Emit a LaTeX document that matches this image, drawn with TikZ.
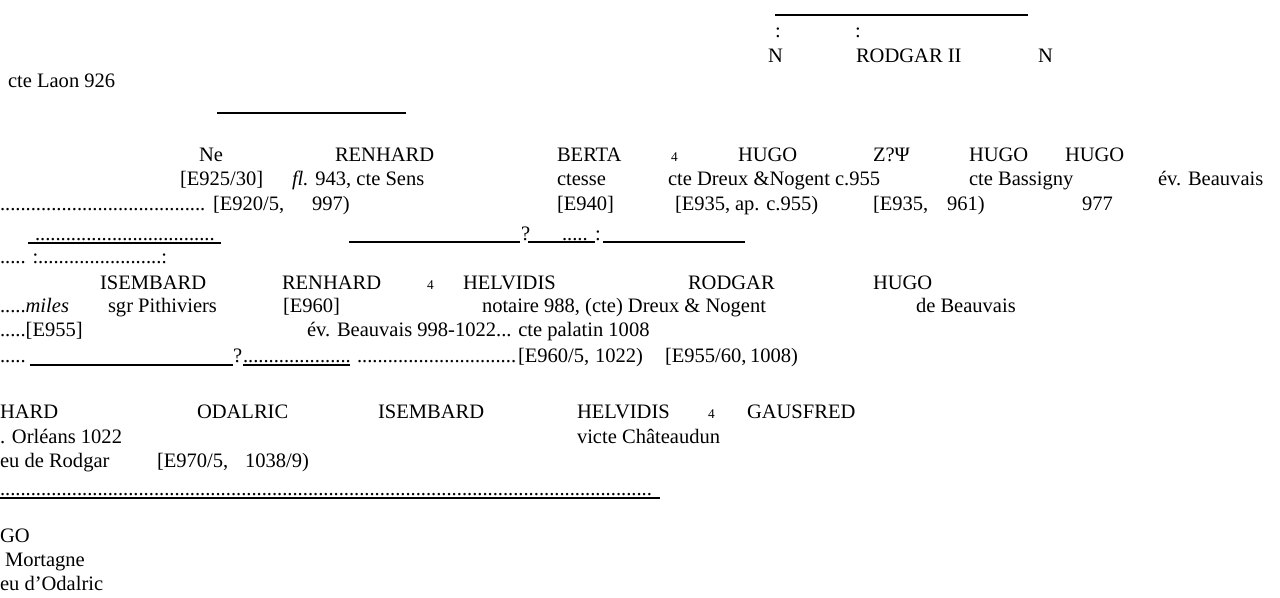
\documentclass[tikz,border=0pt]{standalone}
\usepackage{fontspec}
\setmainfont{Liberation Serif}
\newcommand\rdots[1]{\foreach\ri in {1,...,#1}{.}}
\tikzset{
  txt/.style={anchor=base west,inner sep=0pt,outer sep=0pt,font=\fontsize{15.4}{18}\selectfont},
  smtxt/.style={anchor=base west,inner sep=0pt,outer sep=0pt,font=\fontsize{10}{12}\selectfont},
  rule/.style={line width=0.9pt}
}
\begin{document}
\begin{tikzpicture}[x=0.75pt,y=-0.75pt]
\useasboundingbox (0,0) rectangle (1280,597);
% top
\coordinate (l0a) at (775,15); \coordinate (l0b) at (1028,15);
\draw[rule] (l0a) -- (l0b);
\node[txt] (col1) at (775,37) {:};
\node[txt] (col2) at (855,37) {:};
\node[txt] (ntop1) at (768,62) {N};
\node[txt] (rodgarII) at (856,62) {RODGAR II};
\node[txt] (ntop2) at (1038,62) {N};
\node[txt] (laon) at (8,87) {cte Laon 926};
\coordinate (l1a) at (217,113); \coordinate (l1b) at (406,113);
\draw[rule] (l1a) -- (l1b);
% row 1
\node[txt] (ne) at (199,161) {Ne};
\node[txt] (renhardA) at (335,161) {RENHARD};
\node[txt] (berta) at (557,161) {BERTA};
\node[smtxt] (m1) at (671,161) {4};
\node[txt] (hugoA) at (738,161) {HUGO};
\node[txt] (zpsi) at (873,161) {Z?Ψ};
\node[txt] (hugoB) at (969,161) {HUGO};
\node[txt] (hugoC) at (1065,161) {HUGO};
% row 2
\node[txt] (r2a) at (180,185) {[E925/30]};
\node[txt] (r2b) at (292,185) {\textit{fl.} 943, cte Sens};
\node[txt] (r2c) at (557,185) {ctesse};
\node[txt] (r2d) at (668,185) {cte Dreux \&Nogent c.955};
\node[txt] (r2e) at (969,185) {cte Bassigny};
\node[txt] (r2f) at (1158,185) {év. Beauvais};
% row 3
\node[txt] (r3dots) at (0,210) {\rdots{40}};
\node[txt] (r3a) at (213,210) {[E920/5,};
\node[txt] (r3b) at (312,210) {997)};
\node[txt] (r3c) at (557,210) {[E940]};
\node[txt] (r3d) at (675,210) {[E935,};
\node[txt] (r3e) at (735,210) {ap. c.955)};
\node[txt] (r3f) at (873,210) {[E935,};
\node[txt] (r3g) at (947,210) {961)};
\node[txt] (r3h) at (1082,210) {977};
% row 4
\node[txt] (r4dots) at (35,240) {\rdots{35}};
\coordinate (l2a) at (28,243); \coordinate (l2b) at (221,243);
\draw[rule] (l2a) -- (l2b);
\coordinate (l3a) at (349,242); \coordinate (l3b) at (520,242);
\draw[rule] (l3a) -- (l3b);
\node[txt] (q1) at (521,240) {?};
\node[txt] (r4dots2) at (562,240) {\rdots{5}};
\coordinate (l4a) at (528,242); \coordinate (l4b) at (595,242);
\draw[rule] (l4a) -- (l4b);
\node[txt] (col3) at (595,240) {:};
\coordinate (l5a) at (603,242); \coordinate (l5b) at (745,242);
\draw[rule] (l5a) -- (l5b);
% row 5
\node[txt] (r5) at (0,263) {\rdots{5} :\rdots{24}:};
% row 6
\node[txt] (isembardA) at (100,289) {ISEMBARD};
\node[txt] (renhardB) at (282,289) {RENHARD};
\node[smtxt] (m2) at (427,289) {4};
\node[txt] (helvidisA) at (463,289) {HELVIDIS};
\node[txt] (rodgar) at (688,289) {RODGAR};
\node[txt] (hugoD) at (873,289) {HUGO};
% row 7
\node[txt] (r7a) at (0,312) {\rdots{5}\textit{miles}};
\node[txt] (r7b) at (108,312) {sgr Pithiviers};
\node[txt] (r7c) at (283,312) {[E960]};
\node[txt] (r7d) at (482,312) {notaire 988, (cte) Dreux \& Nogent};
\node[txt] (r7e) at (916,312) {de Beauvais};
% row 8
\node[txt] (r8a) at (0,336) {\rdots{5}[E955]};
\node[txt] (r8b) at (307,336) {év. Beauvais 998-1022\rdots{3} cte palatin 1008};
% row 9
\node[txt] (r9dots) at (0,362) {\rdots{5}};
\coordinate (l6a) at (30,365); \coordinate (l6b) at (233,365);
\draw[rule] (l6a) -- (l6b);
\node[txt] (q2) at (233,362) {?};
\node[txt] (r9dots2) at (243,362) {\rdots{21}};
\coordinate (l7a) at (243,365); \coordinate (l7b) at (350,365);
\draw[rule] (l7a) -- (l7b);
\node[txt] (r9dots3) at (357,362) {\rdots{31}};
\node[txt] (r9a) at (518,362) {[E960/5,};
\node[txt] (r9b) at (595,362) {1022)};
\node[txt] (r9c) at (665,362) {[E955/60,};
\node[txt] (r9d) at (750,362) {1008)};
% row 10
\node[txt] (hard) at (0,418) {HARD};
\node[txt] (odalric) at (197,418) {ODALRIC};
\node[txt] (isembardB) at (378,418) {ISEMBARD};
\node[txt] (helvidisB) at (577,418) {HELVIDIS};
\node[smtxt] (m3) at (708,418) {4};
\node[txt] (gausfred) at (747,418) {GAUSFRED};
% row 11
\node[txt] (r11a) at (0,443) {. Orléans 1022};
\node[txt] (r11b) at (577,443) {victe Châteaudun};
% row 12
\node[txt] (r12a) at (0,467) {eu de Rodgar};
\node[txt] (r12b) at (157,467) {[E970/5,};
\node[txt] (r12c) at (245,467) {1038/9)};
% row 13
\node[txt] (r13dots) at (0,495) {\rdots{127}};
\coordinate (l8a) at (0,498); \coordinate (l8b) at (660,498);
\draw[rule] (l8a) -- (l8b);
% row 14
\node[txt] (go) at (0,542) {GO};
\node[txt] (mortagne) at (5,566) {Mortagne};
\node[txt] (odal) at (0,590) {eu d’Odalric};
\end{tikzpicture}
\end{document}
